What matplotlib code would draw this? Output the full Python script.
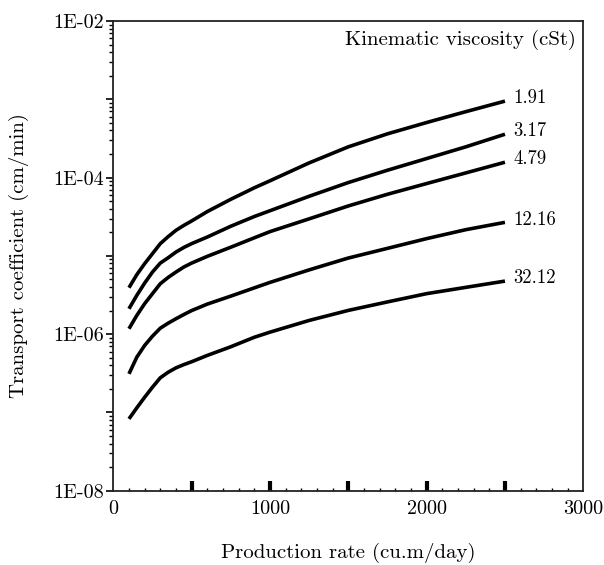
import matplotlib
matplotlib.use("Agg")
import matplotlib.pyplot as plt
from matplotlib.ticker import FixedLocator, FuncFormatter, MultipleLocator, NullFormatter
import numpy as np

plt.rcParams['font.family'] = ['cmr10', 'DejaVu Serif']
plt.rcParams['axes.formatter.use_mathtext'] = True

production_rate = [100, 150, 200, 250, 300, 350, 400, 450, 500, 600, 750, 900, 1000,
                   1250, 1500, 1750, 2000, 2250, 2500]
viscosity_labels = ["1.91", "3.17", "4.79", "12.16", "32.12"]
coef_191 = [3.92e-6, 5.75e-6, 7.95e-6, 1.067e-5, 1.433e-5, 1.76e-5, 2.12e-5, 2.45e-5,
            2.79e-5, 3.68e-5, 5.28e-5, 7.40e-5, 9.10e-5, 1.54e-4, 2.47e-4, 3.62e-4,
            5.05e-4, 6.95e-4, 9.48e-4]
coef_317 = [2.11e-6, 3.13e-6, 4.49e-6, 6.21e-6, 8.09e-6, 9.45e-6, 1.119e-5, 1.28e-5,
            1.433e-5, 1.74e-5, 2.39e-5, 3.18e-5, 3.77e-5, 5.77e-5, 8.64e-5, 1.241e-4,
            1.75e-4, 2.47e-4, 3.58e-4]
coef_479 = [1.172e-6, 1.734e-6, 2.45e-6, 3.29e-6, 4.41e-6, 5.30e-6, 6.21e-6, 7.20e-6,
            8.09e-6, 9.86e-6, 1.29e-5, 1.70e-5, 2.04e-5, 2.97e-5, 4.34e-5, 6.12e-5,
            8.39e-5, 1.147e-4, 1.571e-4]
coef_1216 = [3.11e-7, 5.08e-7, 7.17e-7, 9.42e-7, 1.192e-6, 1.38e-6, 1.573e-6, 1.78e-6,
             2.00e-6, 2.42e-6, 3.06e-6, 3.90e-6, 4.58e-6, 6.62e-6, 9.38e-6, 1.247e-5,
             1.66e-5, 2.16e-5, 2.68e-5]
coef_3212 = [8.27e-8, 1.144e-7, 1.562e-7, 2.10e-7, 2.77e-7, 3.26e-7, 3.71e-7, 4.08e-7,
             4.44e-7, 5.35e-7, 6.90e-7, 9.12e-7, 1.06e-6, 1.496e-6, 2.01e-6, 2.58e-6,
             3.29e-6, 3.96e-6, 4.76e-6]
series = [coef_191, coef_317, coef_479, coef_1216, coef_3212]

y_tick_values = [1e-8, 1e-6, 1e-4, 1e-2]
y_tick_labels = ["1E-08", "1E-06", "1E-04", "1E-02"]
x_tick_labels = ["0", "1000", "2000", "3000"]

fig = plt.figure(figsize=(6.04, 5.65), dpi=100)
ax = fig.add_axes([0.1876, 0.1315, 0.7781, 0.8313])

for vals, lab in zip(series, viscosity_labels):
    ax.plot(production_rate, vals, color='black', lw=2.6, solid_capstyle='butt',
            solid_joinstyle='round')
    ax.annotate(lab, xy=(production_rate[-1], vals[-1]), xytext=(6, 2),
                textcoords='offset points', ha='left', va='center', fontsize=13.5)

ax.set_yscale('log')
ax.set_xlim(0, 3000)
ax.set_ylim(1e-8, 1e-2)

# x ticks
ax.xaxis.set_major_locator(MultipleLocator(500))
ax.xaxis.set_major_formatter(FuncFormatter(
    lambda v, p: x_tick_labels[int(round(v / 1000))] if abs(v % 1000) < 1e-6 else ""))
ax.xaxis.set_minor_locator(MultipleLocator(100))
ax.tick_params(axis='x', which='major', direction='in', length=7, width=3, pad=7,
               labelsize=14.5, top=False)
ax.tick_params(axis='x', which='minor', direction='in', length=2.5, width=1, top=False)

# y ticks
decades = [10.0 ** k for k in range(-8, -1)]
ax.yaxis.set_major_locator(FixedLocator(decades))
label_map = dict(zip([round(np.log10(v)) for v in y_tick_values], y_tick_labels))
ax.yaxis.set_major_formatter(FuncFormatter(
    lambda v, p: label_map.get(int(round(np.log10(v))), "")))
minor = [m * 10.0 ** k for k in range(-8, -2) for m in range(2, 10)]
ax.yaxis.set_minor_locator(FixedLocator(minor))
ax.yaxis.set_minor_formatter(NullFormatter())
ax.tick_params(axis='y', which='major', direction='out', length=5, width=1.2, pad=2,
               labelsize=14.5, right=False)
ax.tick_params(axis='y', which='minor', direction='out', length=3, width=1, right=False)

for s in ax.spines.values():
    s.set_linewidth(1.3)
    s.set_color('#222222')

ax.set_xlabel("Production rate (cu.m/day)", fontsize=15, labelpad=18)
ax.set_ylabel("Transport coefficient (cm/min)", fontsize=15, labelpad=17)

ax.text(0.985, 0.959, "Kinematic viscosity (cSt)", transform=ax.transAxes,
        ha='right', va='center', fontsize=15)

fig.canvas.draw()
for t in ax.xaxis.get_major_ticks():
    loc = t.get_loc()
    if loc <= 0 or loc >= 3000:
        t.tick1line.set_visible(False)
        t.tick2line.set_visible(False)

fig.savefig("out.png", dpi=100)
